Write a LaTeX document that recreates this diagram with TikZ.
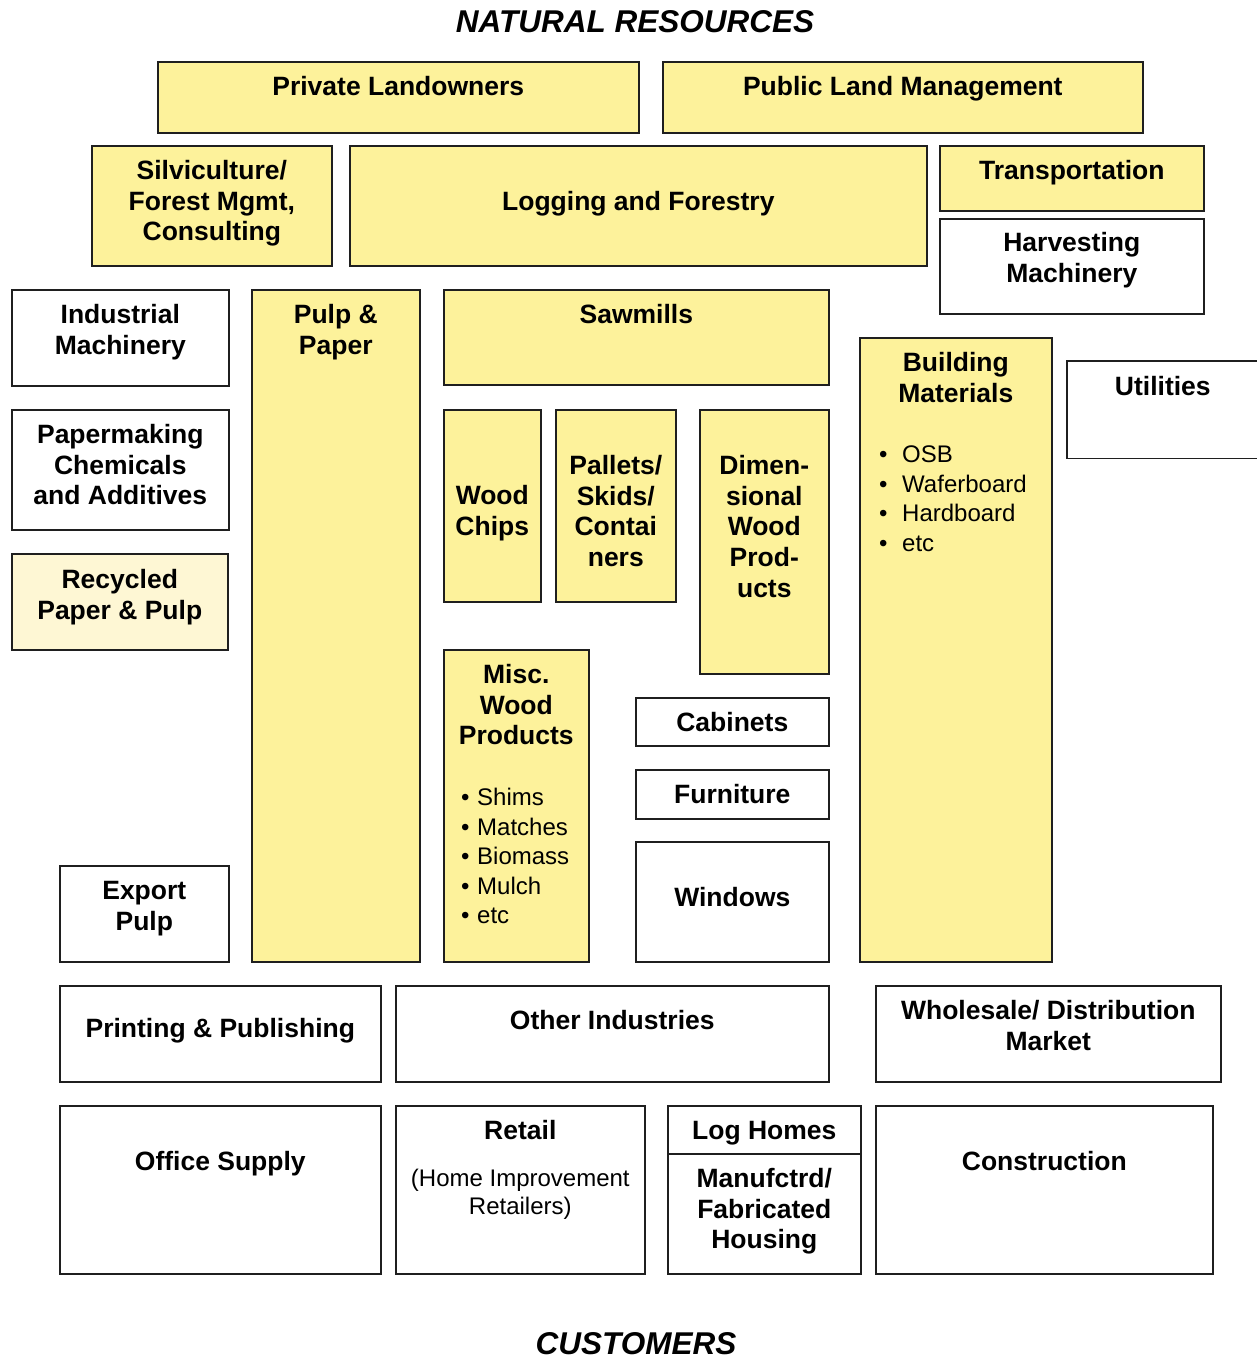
\documentclass[tikz,border=0pt]{standalone}
\usepackage{fontspec}
\setmainfont{Liberation Sans}
\usetikzlibrary{positioning}
\definecolor{boxyellow}{RGB}{253,242,155}
\definecolor{paleyellow}{RGB}{254,247,212}

\begin{document}
\begin{tikzpicture}[x=1pt, y=-1pt,
  box/.style={draw=black!88, line width=1.6pt, anchor=north west, inner sep=0pt},
  yel/.style={box, fill=boxyellow},
  wht/.style={box, fill=white},
  lbl/.style={anchor=base, align=center, inner sep=0pt, font=\bfseries\fontsize{26.5}{30.7}\selectfont},
  sub/.style={anchor=base, align=center, inner sep=0pt, font=\fontsize{24}{28}\selectfont},
  lst/.style={anchor=base west, align=left, inner sep=0pt, font=\fontsize{24}{29.5}\selectfont},
  ttl/.style={anchor=base, inner sep=0pt, font=\bfseries\itshape\fontsize{31.5}{36}\selectfont}]

\useasboundingbox (0,0) rectangle (1257,1358);

% Titles
\node[ttl] (natres) at (635,32) {NATURAL RESOURCES};
\node[ttl] (customers) at (636,1354) {CUSTOMERS};

% Land owners
\node[yel, minimum width=481, minimum height=71] (privland) at (157,61) {};
\node[lbl] (privland-t) at ([yshift=-34.5]privland.north) {Private Landowners};
\node[yel, minimum width=480, minimum height=71] (publand) at (662,61) {};
\node[lbl] (publand-t) at ([yshift=-34.5]publand.north) {Public Land Management};

% Forestry row (multi-line labels sit on their last line)
\node[yel, minimum width=240, minimum height=120] (silvi) at (91,145) {};
\node[lbl] (silvi-t) at ([yshift=-95.9]silvi.north) {Silviculture/\\Forest Mgmt,\\Consulting};
\node[yel, minimum width=577, minimum height=120] (logging) at (349,145) {};
\node[lbl] (logging-t) at ([yshift=-65.5]logging.north) {Logging and Forestry};
\node[yel, minimum width=264, minimum height=65] (transp) at (939,145) {};
\node[lbl] (transp-t) at ([yshift=-34.5]transp.north) {Transportation};
\node[wht, minimum width=264, minimum height=95] (harvest) at (939,218) {};
\node[lbl] (harvest-t) at ([yshift=-64.2]harvest.north) {Harvesting\\Machinery};

% Left column
\node[wht, minimum width=217, minimum height=96] (indmach) at (11,289) {};
\node[lbl] (indmach-t) at ([yshift=-65.2]indmach.north) {Industrial\\Machinery};
\node[wht, minimum width=217, minimum height=120] (papchem) at (11,409) {};
\node[lbl] (papchem-t) at ([yshift=-95.9]papchem.north) {Papermaking\\Chemicals\\and Additives};
\node[box, fill=paleyellow, minimum width=216, minimum height=96] (recycled) at (11,553) {};
\node[lbl] (recycled-t) at ([yshift=-66]recycled.north) {Recycled\\Paper \& Pulp};
\node[wht, minimum width=169, minimum height=96] (exportpulp) at (59,865) {};
\node[lbl] (exportpulp-t) at ([yshift=-65.2]exportpulp.north) {Export\\Pulp};

% Pulp and paper
\node[yel, minimum width=168, minimum height=672] (pulp) at (251,289) {};
\node[lbl] (pulp-t) at ([yshift=-65.2]pulp.north) {Pulp \&\\Paper};

% Sawmills and products
\node[yel, minimum width=385, minimum height=95] (sawmill) at (443,289) {};
\node[lbl] (sawmill-t) at ([yshift=-34.5]sawmill.north) {Sawmills};
\node[yel, minimum width=97, minimum height=192] (woodchips) at (443,409) {};
\node[lbl] (woodchips-t) at ([yshift=-126.2]woodchips.north) {Wood\\Chips};
\node[yel, minimum width=120, minimum height=192] (pallets) at (555,409) {};
\node[lbl] (pallets-t) at ([yshift=-157.6]pallets.north) {Pallets/\\Skids/\\Contai\\ners};
\node[yel, minimum width=129, minimum height=264] (dimwood) at (699,409) {};
\node[lbl] (dimwood-t) at ([yshift=-188.3]dimwood.north) {Dimen-\\sional\\Wood\\Prod-\\ucts};
\node[yel, minimum width=145, minimum height=312] (miscwood) at (443,649) {};
\node[lbl] (miscwood-t) at ([yshift=-95.9]miscwood.north) {Misc.\\Wood\\Products};
\node[lst] (miscwood-l) at (461,923.5) {\makebox[16pt][l]{\textbullet}Shims\\\makebox[16pt][l]{\textbullet}Matches\\\makebox[16pt][l]{\textbullet}Biomass\\\makebox[16pt][l]{\textbullet}Mulch\\\makebox[16pt][l]{\textbullet}etc};

% Finished goods
\node[wht, minimum width=193, minimum height=48] (cabinets) at (635,697) {};
\node[lbl] (cabinets-t) at ([yshift=-34.5]cabinets.north) {Cabinets};
\node[wht, minimum width=193, minimum height=49] (furniture) at (635,769) {};
\node[lbl] (furniture-t) at ([yshift=-34.5]furniture.north) {Furniture};
\node[wht, minimum width=193, minimum height=120] (windows) at (635,841) {};
\node[lbl] (windows-t) at ([yshift=-65.5]windows.north) {Windows};

% Building materials
\node[yel, minimum width=192, minimum height=624] (buildmat) at (859,337) {};
\node[lbl] (buildmat-t) at ([yshift=-65.2]buildmat.north) {Building\\Materials};
\node[lst] (buildmat-l) at (879,551) {\makebox[23pt][l]{\textbullet}OSB\\\makebox[23pt][l]{\textbullet}Waferboard\\\makebox[23pt][l]{\textbullet}Hardboard\\\makebox[23pt][l]{\textbullet}etc};

% Utilities (runs off the page)
\node[box, draw=none, fill=white, minimum width=190, minimum height=96] (utilities) at (1067,361) {};
\draw[draw=black!88, line width=1.6pt] (utilities.north east) -- (utilities.north west) -- (utilities.south west) -- (utilities.south east);
\node[lbl] (utilities-t) at ([yshift=-34.5]utilities.north) {Utilities};

% Customers
\node[wht, minimum width=321, minimum height=96] (printing) at (59,985) {};
\node[lbl] (printing-t) at ([yshift=-52.5]printing.north) {Printing \& Publishing};
\node[wht, minimum width=433, minimum height=96] (otherind) at (395,985) {};
\node[lbl] (otherind-t) at ([yshift=-44.5]otherind.north) {Other Industries};
\node[wht, minimum width=345, minimum height=96] (wholesale) at (875,985) {};
\node[lbl] (wholesale-t) at ([yshift=-65.2]wholesale.north) {Wholesale/ Distribution\\Market};
\node[wht, minimum width=321, minimum height=168] (office) at (59,1105) {};
\node[lbl] (office-t) at ([yshift=-65.5]office.north) {Office Supply};
\node[wht, minimum width=249, minimum height=168] (retail) at (395,1105) {};
\node[lbl] (retail-t) at ([yshift=-34.5]retail.north) {Retail};
\node[sub] (retail-s) at ([yshift=-109.5]retail.north) {(Home Improvement\\Retailers)};
\node[wht, minimum width=193, minimum height=48] (loghomes) at (667,1105) {};
\node[lbl] (loghomes-t) at ([yshift=-34.5]loghomes.north) {Log Homes};
\node[wht, minimum width=193, minimum height=120] (manuf) at (667,1153) {};
\node[lbl] (manuf-t) at ([yshift=-95.9]manuf.north) {Manufctrd/\\Fabricated\\Housing};
\node[wht, minimum width=337, minimum height=168] (construct) at (875,1105) {};
\node[lbl] (construct-t) at ([yshift=-65.5]construct.north) {Construction};

\end{tikzpicture}
\end{document}
